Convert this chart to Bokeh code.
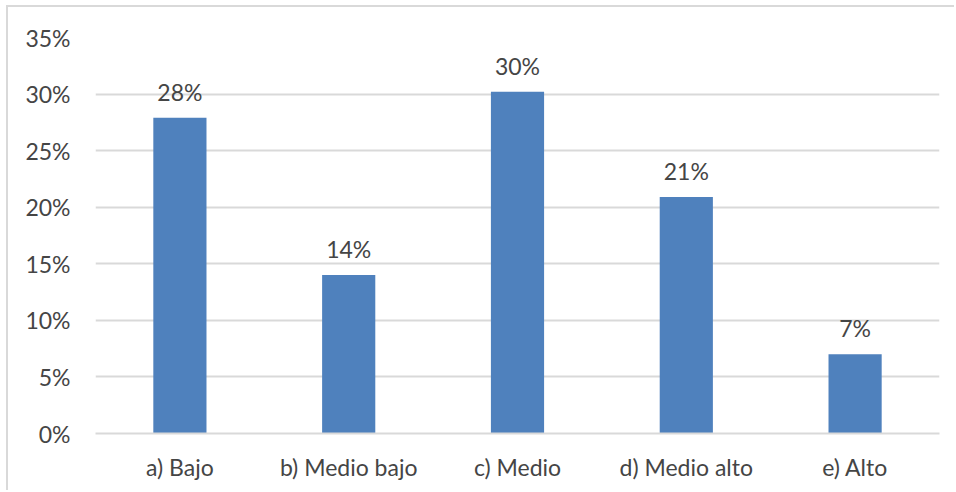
from bokeh.plotting import figure
from bokeh.models import ColumnDataSource, NumeralTickFormatter, FixedTicker
from bokeh.core.properties import value
from bokeh.embed import file_html
from bokeh.resources import INLINE

categories = ["a) Bajo", "b) Medio bajo", "c) Medio", "d) Medio alto", "e) Alto"]
values = [0.279, 0.140, 0.302, 0.209, 0.070]
labels = ["28%", "14%", "30%", "21%", "7%"]
y_ticks = [0, 0.05, 0.10, 0.15, 0.20, 0.25, 0.30, 0.35]

FONT = "Lato"
TXT = "#454545"
GRID = "#D9D9D9"

src = ColumnDataSource(dict(cat=categories, val=values, lab=labels))

p = figure(x_range=categories, y_range=(0, 0.35), width=948, height=485,
           output_backend="svg", toolbar_location=None,
           min_border_left=87, min_border_right=17, min_border_top=30, min_border_bottom=59)
p.margin = (5, 0, 0, 6)
p.styles = {"border-left": "2px solid #D9D9D9", "border-top": "2px solid #D9D9D9"}
p.outline_line_color = None
p.background_fill_color = "white"
p.border_fill_color = "white"

p.vbar(x="cat", top="val", width=0.315, source=src, color="#4F81BD", line_color=None)
p.text(x="cat", y="val", text="lab", source=src, text_align="center",
       text_baseline="bottom", y_offset=-12, text_font=value(FONT),
       text_font_size="23px", text_color=TXT)

p.yaxis.ticker = FixedTicker(ticks=y_ticks)
p.yaxis.formatter = NumeralTickFormatter(format="0%")
p.yaxis.axis_line_color = None
p.yaxis.major_tick_line_color = None
p.yaxis.minor_tick_line_color = None
p.yaxis.major_label_standoff = 19
p.yaxis.major_label_text_font = FONT
p.yaxis.major_label_text_font_size = "23px"
p.yaxis.major_label_text_color = TXT

p.xaxis.axis_line_color = GRID
p.xaxis.axis_line_width = 2
p.xaxis.major_tick_line_color = None
p.xaxis.minor_tick_line_color = None
p.xaxis.major_label_standoff = 13
p.xaxis.major_label_text_font = FONT
p.xaxis.major_label_text_font_size = "23px"
p.xaxis.major_label_text_color = TXT

p.xgrid.grid_line_color = None
p.ygrid.grid_line_color = GRID
p.ygrid.grid_line_width = 2
p.x_range.range_padding = 0

open("out.html", "w").write(file_html(p, INLINE))
